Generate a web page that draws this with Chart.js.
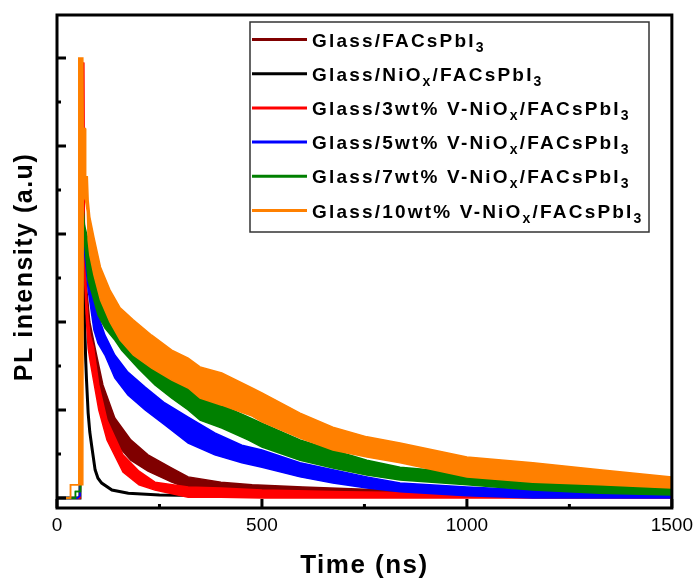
<!DOCTYPE html>
<html lang="en">
<head>
<meta charset="UTF-8">
<title>PL decay</title>
<script src="https://cdn.jsdelivr.net/npm/chart.js@4.4.1/dist/chart.umd.min.js"></script>
<style>
  html, body { margin: 0; padding: 0; background: #fff; }
</style>
</head>
<body>
<canvas id="plChart" width="699" height="584"></canvas>
<script>
  // legend names, "_x" means subscript
  var names = ["Glass/FACsPbI_3", "Glass/NiO_x/FACsPbI_3", "Glass/3wt% V-NiO_x/FACsPbI_3",
               "Glass/5wt% V-NiO_x/FACsPbI_3", "Glass/7wt% V-NiO_x/FACsPbI_3", "Glass/10wt% V-NiO_x/FACsPbI_3"];
  var colors = ["#800000", "#000000", "#ff0000", "#0000ff", "#008000", "#ff8000"];

  var xTicks = [0, 500, 1000, 1500];

  // time (ns), upper and lower edge of the noisy trace
  var tBrown  = [0, 56, 62, 70, 80, 94, 112, 141, 180, 222, 280, 320, 400, 476, 600, 800, 1000, 1500];
  var hiBrown = [0, 0, 0.8, 0.5, 0.4, 0.336, 0.257, 0.182, 0.132, 0.098, 0.068, 0.048, 0.036, 0.030, 0.025, 0.018, 0.014, 0.011];
  var loBrown = [0, 0, 0.8, 0.44, 0.35, 0.28, 0.2, 0.127, 0.086, 0.061, 0.036, 0.022, 0.014, 0.011, 0.009, 0.005, 0.005, 0.002];

  var tBlack = [0, 56, 58, 62, 66, 70, 72, 76, 80, 85, 93, 100, 109, 134, 174, 250, 400, 600, 1500];
  var vBlack = [0, 0, 0.3, 0.56, 0.45, 0.314, 0.268, 0.193, 0.15, 0.116, 0.064, 0.045, 0.034, 0.018, 0.011, 0.007, 0.005, 0.004, 0.003];

  var tRed  = [0, 56, 60, 65, 67, 72, 76, 81, 89, 102, 122, 161, 200, 239, 320, 400, 500, 700, 1000, 1500];
  var hiRed = [0, 0, 0.6, 0.99, 0.58, 0.457, 0.405, 0.37, 0.343, 0.257, 0.177, 0.098, 0.061, 0.036, 0.025, 0.023, 0.018, 0.014, 0.011, 0.009];
  var loRed = [0, 0, 0.6, 0.99, 0.50, 0.40, 0.34, 0.31, 0.268, 0.2, 0.132, 0.059, 0.03, 0.018, 0.002, 0.002, 0, 0, 0, 0];

  var tBlue  = [0, 50, 56, 64, 67, 76, 90, 100, 117, 141, 173, 215, 263, 320, 385, 451, 500, 593, 673, 756, 837, 1000, 1160, 1324, 1500];
  var hiBlue = [0, 0, 0.005, 0.632, 0.6, 0.548, 0.461, 0.416, 0.370, 0.325, 0.286, 0.252, 0.216, 0.184, 0.148, 0.120, 0.109, 0.080, 0.064, 0.048, 0.034, 0.025, 0.018, 0.014, 0.011];
  var loBlue = [0, 0, 0.005, 0.632, 0.56, 0.473, 0.382, 0.352, 0.325, 0.273, 0.234, 0.2, 0.166, 0.125, 0.098, 0.080, 0.070, 0.048, 0.034, 0.023, 0.014, 0.005, 0, 0, 0];

  var tGreen  = [0, 44, 45, 57, 64, 67, 76, 90, 100, 117, 141, 158, 198, 239, 280, 320, 349, 402, 466, 500, 593, 673, 756, 837, 1000, 1160, 1324, 1500];
  var hiGreen = [0, 0, 0.015, 0.015, 0.655, 0.62, 0.586, 0.518, 0.484, 0.45, 0.42, 0.405, 0.359, 0.318, 0.286, 0.257, 0.234, 0.211, 0.184, 0.17, 0.132, 0.109, 0.086, 0.07, 0.057, 0.041, 0.034, 0.025];
  var loGreen = [0, 0, 0.015, 0.015, 0.655, 0.58, 0.495, 0.45, 0.416, 0.386, 0.359, 0.336, 0.295, 0.257, 0.227, 0.2, 0.177, 0.159, 0.132, 0.116, 0.086, 0.068, 0.052, 0.041, 0.03, 0.018, 0.011, 0.007];

  // the spike is a solid column of vertical noise, so its lower edge sits at the pre-pulse level
  var tOrange  = [0, 32, 33, 52, 53, 63, 64, 69, 70, 74, 76, 80, 90, 106, 129, 154, 186, 231, 280, 320, 349, 402, 476, 500, 593, 673, 756, 837, 1000, 1161, 1324, 1500];
  var hiOrange = [0, 0, 0.03, 0.03, 1.0, 1.0, 0.84, 0.84, 0.73, 0.73, 0.677, 0.639, 0.593, 0.525, 0.473, 0.432, 0.405, 0.370, 0.336, 0.318, 0.298, 0.284, 0.25, 0.239, 0.193, 0.161, 0.139, 0.125, 0.093, 0.080, 0.064, 0.048];
  var loOrange = [0, 0, 0.03, 0.03, 0.03, 0.03, 0.68, 0.68, 0.68, 0.65, 0.586, 0.552, 0.507, 0.45, 0.4, 0.359, 0.325, 0.295, 0.268, 0.25, 0.227, 0.211, 0.186, 0.173, 0.136, 0.109, 0.093, 0.080, 0.048, 0.036, 0.030, 0.023];

  function pts(t, v) {
    return t.map(function (x, i) { return { x: x, y: v[i] }; });
  }

  // one trace = upper edge line + lower edge line filled up to it
  function band(t, hi, lo, color, order) {
    return [
      { data: pts(t, hi), borderColor: color, borderWidth: 1.5, pointRadius: 0, fill: false, order: order },
      { data: pts(t, lo), borderColor: color, backgroundColor: color, borderWidth: 1.5, pointRadius: 0, fill: '-1', order: order }
    ];
  }

  var datasets = [].concat(
    band(tBrown, hiBrown, loBrown, colors[0], 5),
    [{ data: pts(tBlack, vBlack), borderColor: colors[1], borderWidth: 3, pointRadius: 0, fill: false, order: 4 }],
    band(tRed, hiRed, loRed, colors[2], 3),
    band(tBlue, hiBlue, loBlue, colors[3], 2),
    band(tGreen, hiGreen, loGreen, colors[4], 1),
    band(tOrange, hiOrange, loOrange, colors[5], 0)
  );

  function drawRich(ctx, text, x, y, size, sub) {
    var parts = text.split(/_(.)/);
    for (var i = 0; i < parts.length; i++) {
      if (!parts[i]) continue;
      var isSub = i % 2 === 1;
      ctx.font = "bold " + (isSub ? sub : size) + "px 'Liberation Sans', Arial, sans-serif";
      ctx.fillText(parts[i], x, y + (isSub ? 5 : 0));
      x += ctx.measureText(parts[i]).width;
    }
  }

  var framePlugin = {
    id: 'frame',
    afterDraw: function (chart) {
      var ctx = chart.ctx, a = chart.chartArea;
      var xs = chart.scales.x, ys = chart.scales.y;
      ctx.save();
      ctx.strokeStyle = '#000';
      ctx.lineWidth = 3;
      ctx.strokeRect(a.left, a.top, a.right - a.left, a.bottom - a.top);

      // inward ticks
      ctx.beginPath();
      for (var k = 0; k <= 10; k++) {
        var py = ys.getPixelForValue(k / 10);
        ctx.moveTo(a.left, py);
        ctx.lineTo(a.left + (k % 2 === 0 ? 9 : 4), py);
      }
      for (var t = 0; t <= 1500; t += 250) {
        var px = xs.getPixelForValue(t);
        ctx.moveTo(px, a.bottom);
        ctx.lineTo(px, a.bottom - (t % 500 === 0 ? 9 : 4));
      }
      ctx.stroke();

      // axis titles
      ctx.fillStyle = '#000';
      ctx.textAlign = 'center';
      ctx.textBaseline = 'middle';
      ctx.letterSpacing = '1.5px';
      ctx.font = "bold 26px 'Liberation Sans', Arial, sans-serif";
      ctx.fillText('Time (ns)', (a.left + a.right) / 2, 566);
      ctx.save();
      ctx.translate(25, 267);
      ctx.rotate(-Math.PI / 2);
      ctx.font = "bold 25px 'Liberation Sans', Arial, sans-serif";
      ctx.fillText('PL intensity (a.u)', 0, 0);
      ctx.restore();

      // legend
      var bx = 250, by = 22, bw = 399, bh = 210;
      ctx.fillStyle = '#fff';
      ctx.fillRect(bx, by, bw, bh);
      ctx.lineWidth = 1.5;
      ctx.strokeStyle = '#333';
      ctx.strokeRect(bx, by, bw, bh);
      ctx.textAlign = 'left';
      ctx.textBaseline = 'alphabetic';
      ctx.letterSpacing = '2.2px';
      for (var i = 0; i < names.length; i++) {
        var ry = by + 17.5 + i * 34.2;
        ctx.strokeStyle = colors[i];
        ctx.lineWidth = 3;
        ctx.beginPath();
        ctx.moveTo(bx + 2, ry);
        ctx.lineTo(bx + 57, ry);
        ctx.stroke();
        ctx.fillStyle = '#000';
        drawRich(ctx, names[i], bx + 62, ry + 7, 19, 14);
      }
      ctx.restore();
    }
  };

  new Chart(document.getElementById('plChart'), {
    type: 'line',
    data: { datasets: datasets },
    options: {
      responsive: false,
      animation: false,
      layout: { padding: { top: 15, right: 27, left: 0, bottom: 0 } },
      plugins: { legend: { display: false }, tooltip: { enabled: false } },
      elements: { line: { tension: 0 } },
      scales: {
        x: {
          type: 'linear', min: 0, max: 1500,
          afterBuildTicks: function (s) { s.ticks = xTicks.map(function (v) { return { value: v }; }); },
          afterFit: function (s) { s.height = 76; },
          grid: { display: false, drawTicks: false },
          border: { display: false },
          ticks: {
            padding: 6, color: '#000', maxRotation: 0,
            font: { family: "'Liberation Sans', Arial, sans-serif", size: 19 },
            callback: function (v) { return String(v); }
          }
        },
        y: {
          min: -0.0227, max: 1.0977,
          afterFit: function (s) { s.width = 57; },
          grid: { display: false, drawTicks: false },
          border: { display: false },
          ticks: { display: false }
        }
      }
    },
    plugins: [framePlugin]
  });
</script>
</body>
</html>
